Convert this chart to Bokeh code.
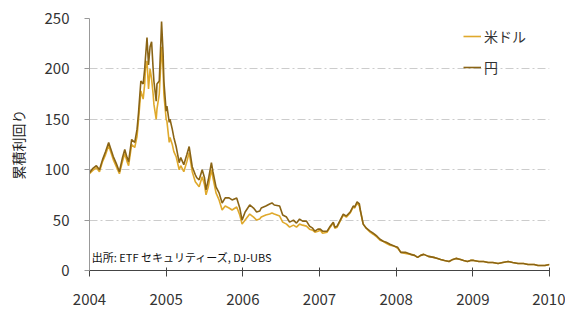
from bokeh.plotting import figure
from bokeh.models import FixedTicker, NumeralTickFormatter, Label, Legend, LegendItem, ColumnDataSource
from bokeh.embed import file_html
from bokeh.resources import INLINE

years = [2004.00, 2004.04, 2004.09, 2004.13, 2004.17, 2004.21, 2004.25, 2004.28, 2004.31, 2004.35,
         2004.39, 2004.43, 2004.46, 2004.49, 2004.51, 2004.55, 2004.59, 2004.62, 2004.64, 2004.67,
         2004.70, 2004.72, 2004.73, 2004.75, 2004.77, 2004.79, 2004.81, 2004.83, 2004.84, 2004.87,
         2004.88, 2004.91, 2004.93, 2004.94, 2004.96, 2004.97, 2005.00, 2005.01, 2005.04, 2005.05,
         2005.08, 2005.10, 2005.13, 2005.17, 2005.19, 2005.23, 2005.27, 2005.30, 2005.34, 2005.38,
         2005.40, 2005.43, 2005.47, 2005.50, 2005.52, 2005.55, 2005.59, 2005.61, 2005.65, 2005.69,
         2005.73, 2005.77, 2005.82, 2005.86, 2005.92, 2005.96, 2005.99, 2006.03, 2006.09, 2006.14,
         2006.18, 2006.22, 2006.24, 2006.30, 2006.35, 2006.38, 2006.41, 2006.48, 2006.52, 2006.57,
         2006.61, 2006.66, 2006.70, 2006.74, 2006.78, 2006.83, 2006.87, 2006.91, 2006.94, 2006.98,
         2007.01, 2007.04, 2007.10, 2007.14, 2007.18, 2007.20, 2007.23, 2007.27, 2007.31, 2007.35,
         2007.40, 2007.44, 2007.46, 2007.49, 2007.52, 2007.53, 2007.57, 2007.61, 2007.66, 2007.70,
         2007.75, 2007.79, 2007.83, 2007.87, 2007.92, 2007.98, 2008.02, 2008.06, 2008.12, 2008.19,
         2008.24, 2008.28, 2008.32, 2008.36, 2008.42, 2008.49, 2008.54, 2008.58, 2008.63, 2008.69,
         2008.74, 2008.78, 2008.84, 2008.88, 2008.93, 2008.97, 2009.01, 2009.08, 2009.14, 2009.20,
         2009.26, 2009.33, 2009.39, 2009.46, 2009.52, 2009.59, 2009.66, 2009.72, 2009.80, 2009.85,
         2009.89, 2009.94, 2010.00]

yen = [97, 101, 104, 100, 110, 118, 127, 120, 113, 106,
       98, 112, 120, 112, 108, 130, 127, 140, 157, 188,
       185, 200, 211, 231, 204, 222, 227, 200, 188, 168,
       185, 188, 226, 247, 215, 188, 158, 163, 147, 150,
       140, 132, 123, 107, 112, 105, 115, 123, 103, 95,
       92, 90, 100, 92, 80, 90, 107, 98, 83, 77,
       67, 72, 72, 70, 72, 62, 50, 58, 65, 62,
       58, 59, 62, 64, 66, 67, 65, 64, 55, 53,
       48, 50, 47, 51, 49, 49, 44, 42, 39, 41,
       41, 39, 39, 44, 48, 43, 44, 50, 56, 54,
       58, 64, 63, 68, 66, 61, 46, 42, 39, 37,
       34, 31, 29, 28, 26, 24, 23, 18, 18, 16,
       15, 13, 15, 16, 14, 13, 12, 11, 10, 9,
       11, 12, 11, 10, 9, 10, 10, 9, 9, 8,
       8, 7, 8, 9, 8, 7, 7, 6, 6, 5,
       5, 5, 6]

usd = [96, 99, 102, 98, 108, 115, 124, 117, 110, 103,
       96, 108, 116, 108, 104, 125, 122, 133, 150, 178,
       170, 185, 200, 208, 180, 200, 190, 175, 165, 150,
       160, 175, 205, 222, 200, 175, 150, 148, 127, 132,
       125, 118, 113, 100, 104, 98, 108, 117, 98, 88,
       86, 83, 93, 85, 75, 83, 100, 92, 77, 70,
       60, 64, 62, 60, 63, 55, 46, 50, 56, 53,
       50, 51, 53, 55, 56, 57, 56, 54, 48, 46,
       43, 45, 43, 46, 45, 44, 41, 40, 38, 39,
       40, 37, 38, 43, 47, 42, 43, 49, 55, 53,
       57, 63, 62, 67, 64, 60, 46, 42, 38, 36,
       33, 30, 29, 27, 25, 24, 22, 18, 17, 16,
       15, 13, 15, 16, 14, 13, 12, 11, 10, 9,
       11, 12, 11, 10, 9, 10, 10, 9, 9, 8,
       8, 7, 8, 9, 8, 7, 7, 6, 6, 5,
       5, 5, 6]

x_ticks = [2004, 2005, 2006, 2007, 2008, 2009, 2010]
y_ticks = [0, 50, 100, 150, 200, 250]
series_names = ["米ドル", "円"]
series_colors = ["#DFA92C", "#8A6415"]

FONT = "Noto Sans CJK JP"

src = ColumnDataSource(dict(x=years, usd=usd, yen=yen))

p = figure(width=565, height=308, output_backend="svg", toolbar_location=None,
           x_range=(2004, 2010), y_range=(0, 250),
           min_border_left=89, min_border_right=16, min_border_top=18, min_border_bottom=38)
p.outline_line_color = None

r_usd = p.line("x", "usd", source=src, line_color=series_colors[0], line_width=1.6)
r_yen = p.line("x", "yen", source=src, line_color=series_colors[1], line_width=1.6)

# axes
p.xaxis.ticker = FixedTicker(ticks=x_ticks)
p.xaxis.formatter = NumeralTickFormatter(format="0")
p.xaxis.minor_tick_line_color = None
p.xaxis.major_tick_in = 3
p.xaxis.major_tick_out = 6
p.xaxis.major_label_standoff = 17
p.xaxis.axis_line_color = "#444444"
p.xaxis.major_tick_line_color = "#444444"
p.xaxis.major_label_text_font = FONT
p.xaxis.major_label_text_font_size = "15px"
p.xaxis.major_label_text_color = "#333333"

p.yaxis.ticker = FixedTicker(ticks=y_ticks)
p.yaxis.minor_tick_line_color = None
p.yaxis.major_tick_in = 0
p.yaxis.major_tick_out = 5
p.yaxis.major_label_standoff = 15
p.yaxis.axis_line_color = "#999999"
p.yaxis.major_tick_line_color = "#999999"
p.yaxis.major_label_text_font = FONT
p.yaxis.major_label_text_font_size = "15px"
p.yaxis.major_label_text_color = "#333333"
p.yaxis.axis_label = "累積利回り"
p.yaxis.axis_label_text_font = FONT
p.yaxis.axis_label_text_font_size = "14px"
p.yaxis.axis_label_text_font_style = "normal"
p.yaxis.axis_label_text_color = "#222222"
p.yaxis.axis_label_standoff = 14

p.xgrid.grid_line_color = None
p.ygrid.grid_line_color = "#CCCCCC"
p.ygrid.grid_line_dash = "8 3 2 3"
p.ygrid.grid_line_width = 1

legend = Legend(items=[LegendItem(label=series_names[0], renderers=[r_usd]),
                       LegendItem(label=series_names[1], renderers=[r_yen])],
                location=(374, 193))
legend.border_line_color = None
legend.background_fill_alpha = 0
legend.padding = 0
legend.margin = 0
legend.spacing = 11
legend.glyph_width = 18
legend.glyph_height = 20
legend.label_height = 20
legend.label_standoff = 3
legend.label_text_font = FONT
legend.label_text_font_size = "14px"
legend.label_text_color = "#333333"
p.add_layout(legend, "center")

src_label = Label(x=2004.03, y=13, text="出所: ETF セキュリティーズ, DJ-UBS",
                  text_font=FONT, text_font_size="11px", text_color="#111111",
                  text_baseline="middle")
p.add_layout(src_label)

open("out.html", "w").write(file_html(p, INLINE))
